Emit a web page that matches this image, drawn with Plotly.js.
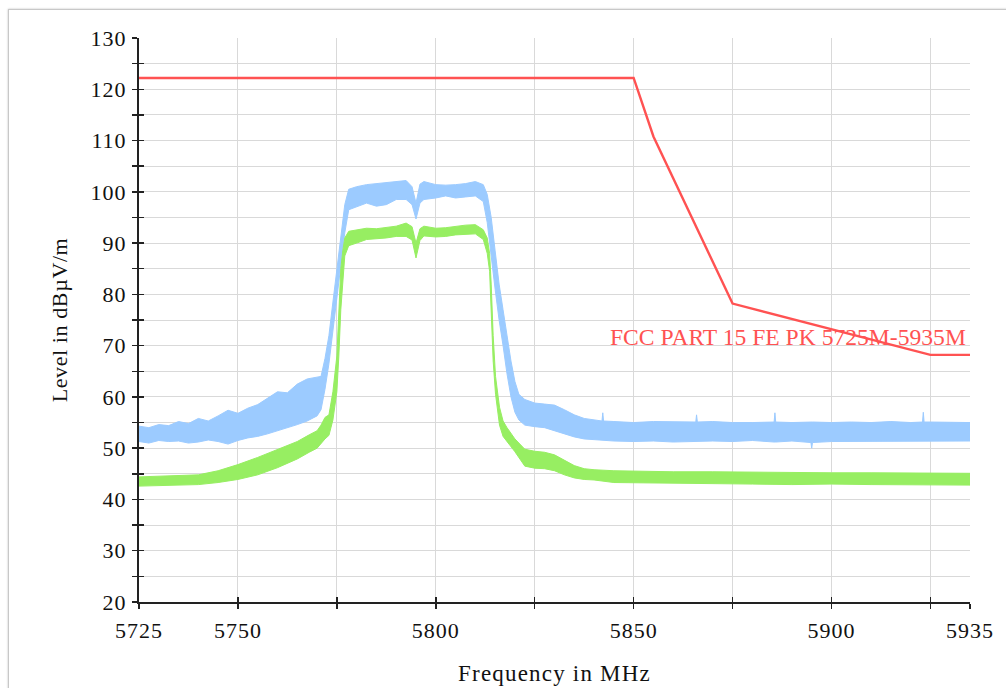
<!DOCTYPE html>
<html>
<head>
<meta charset="utf-8">
<script src="https://cdn.plot.ly/plotly-3.0.1.min.js"></script>
<style>
  html, body { margin: 0; padding: 0; background: #fff; overflow: hidden; }
  #frame {
    position: absolute; left: 8px; top: 9px; width: 1100px; height: 800px;
    border: 1px solid #c8c8c8; box-shadow: 0 0 2px rgba(0,0,0,0.25);
  }
  #chart { position: absolute; left: 0; top: 0; width: 1006px; height: 688px; }
  #chart .xtick text, #chart .ytick text { letter-spacing: 1px; }
  #chart text.xtitle { letter-spacing: 1.2px; }
  #chart text.ytitle { letter-spacing: 0.6px; }
</style>
</head>
<body>
<div id="frame"></div>
<div id="chart"></div>
<script>
// Peak scan, upper trace (MHz / dBµV/m): lower and upper edge of the noise band
const blueFreq = [5725, 5727.5, 5730, 5732.5, 5735, 5737.5, 5740, 5742.5, 5745, 5747.5, 5750, 5752.5, 5755, 5757.5,
  5760, 5762.5, 5765, 5767.5, 5770, 5771, 5772, 5773, 5774, 5775, 5776, 5777, 5778,
  5780, 5782.5, 5785, 5787.5, 5790, 5792.5, 5794, 5795, 5796, 5797, 5800, 5802.5, 5805, 5807.5, 5810, 5812,
  5813, 5814, 5815, 5816, 5817, 5818, 5819, 5820, 5821, 5822.5, 5825, 5827.5, 5830, 5832.5, 5835, 5837.5, 5840,
  5842, 5842.2, 5842.4, 5845, 5850, 5855, 5860, 5865.7, 5865.9, 5866.1, 5870, 5875, 5880, 5885.5, 5885.7, 5885.9,
  5890, 5894.8, 5895, 5895.2, 5900, 5905, 5910, 5915, 5920, 5923, 5923.2, 5923.4, 5925, 5930, 5935];
const blueLow = [51.3, 51.0, 51.5, 51.3, 51.4, 51.0, 51.2, 51.6, 51.3, 50.8, 51.5, 52.0, 52.3, 52.8,
  53.3, 54.0, 54.6, 55.3, 56.3, 57.5, 61.5, 66.5, 72.5, 79.0, 85.5, 92.0, 96.5,
  97.0, 97.8, 97.2, 97.5, 98.5, 98.5, 97.5, 94.7, 97.8, 98.5, 98.8, 99.2, 98.8, 99.0, 99.2, 98.1,
  94.0, 88.0, 81.0, 75.0, 70.0, 64.5, 60.0, 57.0, 55.5, 54.5, 54.2, 54.0, 53.4, 52.8, 52.2, 51.8, 51.7,
  51.5, 51.5, 51.5, 51.4, 51.3, 51.4, 51.2, 51.3, 51.3, 51.3, 51.4, 51.3, 51.5, 51.2, 51.2, 51.2,
  51.4, 51.1, 50.0, 51.1, 51.3, 51.4, 51.3, 51.4, 51.3, 51.4, 51.4, 51.4, 51.3, 51.4, 51.4];
const blueHigh = [54.3, 54.0, 54.6, 54.4, 55.2, 54.8, 55.8, 55.3, 56.3, 57.4, 56.8, 57.8, 58.5, 59.8,
  61.0, 60.8, 62.5, 63.5, 63.8, 64.0, 67.5, 72.0, 78.5, 85.0, 91.5, 97.5, 100.5,
  101.0, 101.4, 101.6, 101.7, 102.0, 102.2, 101.0, 97.8, 101.5, 102.0, 101.4, 101.3, 101.4, 101.6, 102.0, 101.4,
  99.5, 95.0, 88.5, 82.0, 77.0, 71.5, 67.0, 63.0, 60.5, 59.5, 58.8, 58.6, 58.4, 57.5, 56.5, 55.8, 55.5,
  55.3, 56.9, 55.3, 55.2, 55.0, 55.2, 55.1, 55.1, 56.5, 55.1, 55.2, 55.0, 55.0, 55.1, 56.9, 55.1,
  55.0, 55.1, 55.1, 55.1, 55.0, 55.1, 55.0, 55.2, 55.0, 55.1, 57.0, 55.1, 55.1, 55.0, 55.0];

// Average scan, lower trace (MHz / dBµV/m)
const greenFreq = [5725, 5730, 5735, 5740, 5745, 5750, 5755, 5760, 5765, 5768, 5770, 5771, 5772, 5773, 5774, 5775, 5775.5, 5776, 5776.5, 5777, 5778,
  5780, 5782.5, 5785, 5787.5, 5790, 5792.5, 5794, 5795, 5796, 5797, 5800, 5802.5, 5805, 5807.5, 5810, 5812,
  5813, 5813.6, 5814, 5814.5, 5815.1, 5816.1, 5817, 5818, 5820, 5822.5, 5825, 5827.5, 5830, 5832.5, 5835, 5837.5, 5840,
  5845, 5850, 5860, 5870, 5880, 5890, 5900, 5910, 5920, 5930, 5935];
const greenLow = [42.6, 42.7, 42.8, 42.9, 43.3, 43.9, 44.8, 46.2, 47.9, 49.2, 50.0, 50.8, 51.8, 52.5, 55.5, 61.0, 68.0, 77.0, 83.0, 87.5, 89.5,
  90.0, 90.7, 90.8, 91.0, 91.3, 91.3, 90.6, 87.1, 90.5, 91.4, 91.2, 91.3, 91.6, 91.7, 91.8, 90.7,
  88.0, 84.5, 76.0, 67.0, 60.5, 54.5, 52.3, 51.3, 49.3, 46.5, 46.1, 46.0, 45.6, 44.8, 44.2, 43.9, 43.8,
  43.3, 43.2, 43.1, 43.1, 43.0, 42.9, 43.0, 42.9, 42.9, 42.8, 42.8];
const greenHigh = [44.4, 44.5, 44.6, 44.8, 45.6, 46.8, 48.2, 49.8, 51.3, 52.6, 53.4, 54.5, 56.0, 56.5, 61.0, 68.0, 77.0, 85.0, 88.5, 91.0, 92.3,
  92.6, 92.9, 92.8, 93.0, 93.3, 93.9, 93.2, 90.0, 92.8, 93.3, 92.9, 93.0, 93.3, 93.5, 93.6, 92.6,
  91.0, 88.0, 82.0, 72.0, 64.0, 58.0, 55.3, 54.0, 51.8, 49.8, 49.4, 49.2, 48.7, 47.6, 46.6, 46.0, 45.8,
  45.6, 45.5, 45.4, 45.4, 45.3, 45.3, 45.2, 45.2, 45.2, 45.1, 45.1];

// FCC Part 15 limit line
const limitFreq = [5725, 5850, 5855, 5875, 5925, 5935];
const limitLevel = [122.2, 122.2, 110.8, 78.2, 68.2, 68.2];
const limitLabel = 'FCC PART 15 FE PK 5725M-5935M';

// Axis ticks
const xTickVals = [5725, 5750, 5775, 5800, 5825, 5850, 5875, 5900, 5925, 5935];
const xTickText = ['5725', '5750', '', '5800', '', '5850', '', '5900', '', '5935'];
const yTickVals = [20, 25, 30, 35, 40, 45, 50, 55, 60, 65, 70, 75, 80, 85, 90, 95, 100, 105, 110, 115, 120, 125, 130];
const yTickText = yTickVals.map(v => (v % 10 === 0 ? String(v) : ''));

const serif = '"Liberation Serif", "Times New Roman", serif';
const limitColor = '#ff5252';
const inkColor = '#111111';

// Closed polygon outlining a noise band
function band(freq, low, high) {
  return {
    x: freq.concat(freq.slice().reverse()),
    y: high.concat(low.slice().reverse())
  };
}

const blueBand = band(blueFreq, blueLow, blueHigh);
const greenBand = band(greenFreq, greenLow, greenHigh);

const traces = [
  {
    x: blueBand.x, y: blueBand.y, mode: 'lines', fill: 'toself',
    fillcolor: '#9ccbff', line: { color: '#9ccbff', width: 1 },
    hoverinfo: 'skip', showlegend: false
  },
  {
    x: greenBand.x, y: greenBand.y, mode: 'lines', fill: 'toself',
    fillcolor: '#97ee62', line: { color: '#97ee62', width: 1 },
    hoverinfo: 'skip', showlegend: false
  },
  {
    x: limitFreq, y: limitLevel, mode: 'lines',
    line: { color: limitColor, width: 2.4 },
    showlegend: false
  },
  // carries the inner half of the crossing tick marks
  { x: [], y: [], xaxis: 'x2', yaxis: 'y2', mode: 'markers', showlegend: false, hoverinfo: 'skip' }
];

const axisTickFont = { family: serif, size: 22, color: inkColor };

const layout = {
  width: 1006, height: 688,
  font: { family: serif, size: 22, color: inkColor },
  paper_bgcolor: 'rgba(0,0,0,0)', plot_bgcolor: '#fff',
  margin: { l: 139, r: 36, t: 38, b: 86, pad: 0 },
  showlegend: false,
  xaxis: {
    range: [5725, 5935], tickmode: 'array', tickvals: xTickVals, ticktext: xTickText,
    ticks: 'outside', ticklen: 5, tickwidth: 1.5, tickcolor: '#222',
    showline: true, linecolor: '#222', linewidth: 2,
    showgrid: true, gridcolor: '#d9d9d9', gridwidth: 1, zeroline: false,
    tickfont: axisTickFont, ticklabelstandoff: 3,
    title: { text: 'Frequency in MHz', font: { family: serif, size: 23, color: inkColor }, standoff: 22 }
  },
  yaxis: {
    range: [20, 130], tickmode: 'array', tickvals: yTickVals, ticktext: yTickText,
    ticks: 'outside', ticklen: 5, tickwidth: 1.5, tickcolor: '#222',
    showline: true, linecolor: '#222', linewidth: 2,
    showgrid: true, gridcolor: '#d9d9d9', gridwidth: 1, zeroline: false,
    tickfont: axisTickFont, ticklabelstandoff: 1,
    title: { text: 'Level in dBµV/m', font: { family: serif, size: 22, color: inkColor }, standoff: 20 }
  },
  xaxis2: {
    overlaying: 'x', anchor: 'y', range: [5725, 5935], tickmode: 'array', tickvals: xTickVals,
    ticks: 'inside', ticklen: 5, tickwidth: 1.5, tickcolor: '#222',
    showticklabels: false, showgrid: false, showline: false, zeroline: false
  },
  yaxis2: {
    overlaying: 'y', anchor: 'x', side: 'left', range: [20, 130], tickmode: 'array', tickvals: yTickVals,
    ticks: 'inside', ticklen: 5, tickwidth: 1.5, tickcolor: '#222',
    showticklabels: false, showgrid: false, showline: false, zeroline: false
  },
  annotations: [
    {
      x: 5935, y: 71.6, xref: 'x', yref: 'y', xanchor: 'right', yanchor: 'middle', xshift: -2,
      text: limitLabel, showarrow: false,
      font: { family: serif, size: 23.6, color: limitColor }
    }
  ]
};

Plotly.newPlot('chart', traces, layout, { displayModeBar: false, staticPlot: true });
</script>
</body>
</html>
